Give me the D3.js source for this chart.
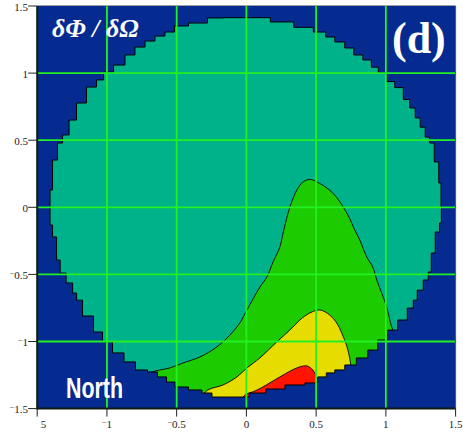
<!DOCTYPE html>
<html><head><meta charset="utf-8">
<script src="https://cdn.jsdelivr.net/npm/d3@7"></script>
<style>body{margin:0;background:#fff;}svg{display:block;}</style>
</head><body>
<svg id="chart" width="463" height="436"></svg>
<script>
// ---- data (data units) ----
const xTickValues = [-1.5, -1, -0.5, 0, 0.5, 1, 1.5];
const yTickValues = [-1.5, -1, -0.5, 0, 0.5, 1, 1.5];
const xTickLabels = ["−1.5", "−1", "−0.5", "0", "0.5", "1", "1.5"];
const yTickLabels = ["−1.5", "−1", "−0.5", "0", "0.5", "1", "1.5"];
const gridValues = [-1, -0.5, 0, 0.5, 1];

// outline of the computed domain (stepped disk), clockwise from top
const diskBoundary = [
  [-0.118,1.413],[0.082,1.413],[0.261,1.381],[0.419,1.341],[0.541,1.306],[0.598,1.269],
  [0.67,1.232],[0.741,1.187],[0.799,1.135],[0.871,1.098],[0.921,1.044],[0.971,0.999],
  [1.028,0.937],[1.1,0.892],[1.15,0.803],[1.193,0.74],[1.228,0.666],[1.264,0.597],
  [1.3,0.523],[1.329,0.479],[1.365,0.338],[1.393,0.181],[1.398,0.002],[1.398,-0.117],
  [1.372,-0.184],[1.336,-0.341],[1.315,-0.482],[1.293,-0.542],[1.243,-0.617],[1.207,-0.692],
  [1.186,-0.751],[1.121,-0.84],[1.049,-0.915],[0.978,-0.989],[0.906,-1.064],[0.835,-1.123],
  [0.741,-1.175],[0.67,-1.212],[0.598,-1.234],[0.548,-1.264],[0.476,-1.309],[0.362,-1.324],
  [0.19,-1.354],[0.09,-1.384],[-0.05,-1.414],[-0.211,-1.414],[-0.283,-1.384],[-0.355,-1.361],
  [-0.476,-1.339],[-0.548,-1.302],[-0.598,-1.264],[-0.677,-1.227],[-0.741,-1.212],[-0.849,-1.152],
  [-0.906,-1.085],[-1.014,-1.003],[-1.049,-0.929],[-1.143,-0.81],[-1.207,-0.692],[-1.228,-0.639],
  [-1.264,-0.564],[-1.321,-0.49],[-1.35,-0.393],[-1.372,-0.221],[-1.408,-0.132],[-1.408,0.129],
  [-1.372,0.352],[-1.336,0.479],[-1.3,0.539],[-1.243,0.65],[-1.193,0.777],[-1.1,0.896],
  [-1.049,0.949],[-0.999,1.008],[-0.906,1.06],[-0.835,1.135],[-0.763,1.194],[-0.691,1.239],
  [-0.62,1.276],[-0.548,1.306],[-0.484,1.351],[-0.347,1.373],[-0.211,1.411]
];

// contour lines (lowest to highest level)
const contourGreen = [
  [-0.75,-1.25],[-0.677,-1.227],[-0.62,-1.212],[-0.548,-1.197],[-0.455,-1.16],[-0.333,-1.115],
  [-0.211,-1.04],[-0.118,-0.952],[-0.047,-0.862],[0.004,-0.765],[0.097,-0.594],[0.147,-0.519],
  [0.19,-0.41],[0.24,-0.296],[0.268,-0.169],[0.312,0.002],[0.362,0.129],[0.405,0.188],
  [0.455,0.208],[0.505,0.19],[0.62,0.106],[0.72,-0.043],[0.777,-0.169],[0.813,-0.244],
  [0.863,-0.371],[0.906,-0.445],[0.935,-0.542],[1.006,-0.743],[1.042,-0.892],[1.08,-0.98]
];
const contourYellow = [
  [-0.33,-1.42],[-0.276,-1.361],[-0.168,-1.324],[-0.068,-1.264],[0.004,-1.197],[0.097,-1.122],
  [0.218,-1.003],[0.312,-0.914],[0.383,-0.84],[0.455,-0.787],[0.527,-0.765],[0.598,-0.803],
  [0.648,-0.862],[0.684,-0.937],[0.72,-1.034],[0.741,-1.123],[0.749,-1.183],[0.76,-1.26]
];
const contourRed = [
  [-0.05,-1.46],[-0.011,-1.399],[0.061,-1.369],[0.118,-1.339],[0.24,-1.264],[0.362,-1.197],
  [0.433,-1.182],[0.476,-1.212],[0.505,-1.264],[0.519,-1.309],[0.53,-1.38]
];
const levelColors = ["#1ccc00", "#e6dc00", "#ff1400"];
const contours = [contourGreen, contourYellow, contourRed];
const outsideClosure = [[1.6,-1.6],[-1.6,-1.6]];

// ---- drawing ----
const svg = d3.select("#chart");
const x = d3.scaleLinear().domain([-1.5, 1.5]).range([37.2, 455.6]);
const y = d3.scaleLinear().domain([-1.5, 1.5]).range([408.6, 6]);

// plot background
svg.append("rect").attr("x", x(-1.5)).attr("y", y(1.5))
  .attr("width", x(1.5) - x(-1.5)).attr("height", y(-1.5) - y(1.5))
  .attr("fill", "#052b90");

const stepLine = d3.line().x(d => x(d[0])).y(d => y(d[1])).curve(d3.curveStep);
const diskPath = stepLine(diskBoundary.concat([diskBoundary[0]])) + "Z";

svg.append("defs").append("clipPath").attr("id", "diskClip")
  .append("path").attr("d", diskPath);

svg.append("path").attr("d", diskPath).attr("fill", "#00b28a");

const smooth = d3.line().x(d => x(d[0])).y(d => y(d[1])).curve(d3.curveCatmullRom.alpha(0.5));
const gC = svg.append("g").attr("clip-path", "url(#diskClip)");
contours.forEach((c, i) => {
  const d = smooth(c) + "L" + outsideClosure.map(p => x(p[0]) + "," + y(p[1])).join("L") + "Z";
  gC.append("path").attr("d", d).attr("fill", levelColors[i])
    .attr("stroke", "#111").attr("stroke-width", 1);
});

svg.append("path").attr("d", diskPath).attr("fill", "none")
  .attr("stroke", "#000").attr("stroke-width", 1);

// grid
const grid = svg.append("g").attr("stroke", "#22f022").attr("stroke-width", 1.8);
gridValues.forEach(v => {
  grid.append("line").attr("x1", x(v)).attr("x2", x(v)).attr("y1", y(1.5)).attr("y2", y(-1.5));
  grid.append("line").attr("y1", y(v)).attr("y2", y(v)).attr("x1", x(-1.5)).attr("x2", x(1.5));
});

// frame
svg.append("line").attr("x1", x(-1.5)).attr("x2", x(1.5)).attr("y1", y(1.5) - 0.5).attr("y2", y(1.5) - 0.5)
  .attr("stroke", "#a0a0a0").attr("stroke-width", 1);
svg.append("line").attr("x1", x(1.5)).attr("x2", x(1.5)).attr("y1", y(1.5)).attr("y2", y(-1.5))
  .attr("stroke", "#505a50").attr("stroke-width", 1);
svg.append("line").attr("x1", x(-1.5)).attr("x2", x(-1.5)).attr("y1", y(1.5)).attr("y2", y(-1.5) + 1)
  .attr("stroke", "#0c1c10").attr("stroke-width", 2);
svg.append("line").attr("x1", x(-1.5)).attr("x2", x(1.5)).attr("y1", y(-1.5)).attr("y2", y(-1.5))
  .attr("stroke", "#0c1c10").attr("stroke-width", 2);

// ticks
yTickValues.forEach(v => {
  svg.append("line").attr("x1", x(-1.5) - 9).attr("x2", x(-1.5)).attr("y1", y(v)).attr("y2", y(v))
    .attr("stroke", "#222").attr("stroke-width", 1);
});
xTickValues.forEach(v => {
  svg.append("line").attr("x1", x(v)).attr("x2", x(v)).attr("y1", y(-1.5)).attr("y2", y(-1.5) + 8)
    .attr("stroke", "#222").attr("stroke-width", 1);
});

function tickText(sel, label) {
  if (label.startsWith("−")) {
    sel.append("tspan").attr("font-size", 8).attr("dy", -3).text("−");
    sel.append("tspan").attr("dy", 3).text(label.slice(1));
  } else sel.text(label);
}
const fontSerif = "'Liberation Serif','DejaVu Serif',serif";
svg.append("defs").append("clipPath").attr("id", "xlabClip")
  .append("rect").attr("x", 40).attr("y", 410).attr("width", 430).attr("height", 30);
yTickValues.forEach((v, i) => {
  const t = svg.append("text").attr("x", 28).attr("y", y(v) + 4.5)
    .attr("text-anchor", "end").attr("font-family", fontSerif).attr("font-size", 11).attr("fill", "#222");
  tickText(t, yTickLabels[i]);
});
xTickValues.forEach((v, i) => {
  const t = svg.append("text").attr("x", x(v)).attr("y", 427.5)
    .attr("text-anchor", "middle").attr("font-family", fontSerif).attr("font-size", 11).attr("fill", "#222");
  if (i === 0) t.attr("clip-path", "url(#xlabClip)");
  tickText(t, xTickLabels[i]);
});

// annotations
svg.append("text").attr("x", 52).attr("y", 37).attr("font-family", fontSerif)
  .attr("font-size", 26).attr("font-weight", "bold").attr("font-style", "italic")
  .attr("fill", "#fff").text("δΦ / δΩ");
svg.append("text").attr("x", 392).attr("y", 53).attr("font-family", fontSerif)
  .attr("font-size", 44).attr("font-weight", "bold").attr("fill", "#fff").text("(d)");
svg.append("text").attr("x", 66).attr("y", 398).attr("font-family", "'Liberation Sans Narrow','Liberation Sans',Arial,sans-serif")
  .attr("font-size", 29).attr("font-weight", "bold").attr("fill", "#fff")
  .attr("textLength", 57).attr("lengthAdjust", "spacingAndGlyphs").text("North");
</script>
</body></html>
